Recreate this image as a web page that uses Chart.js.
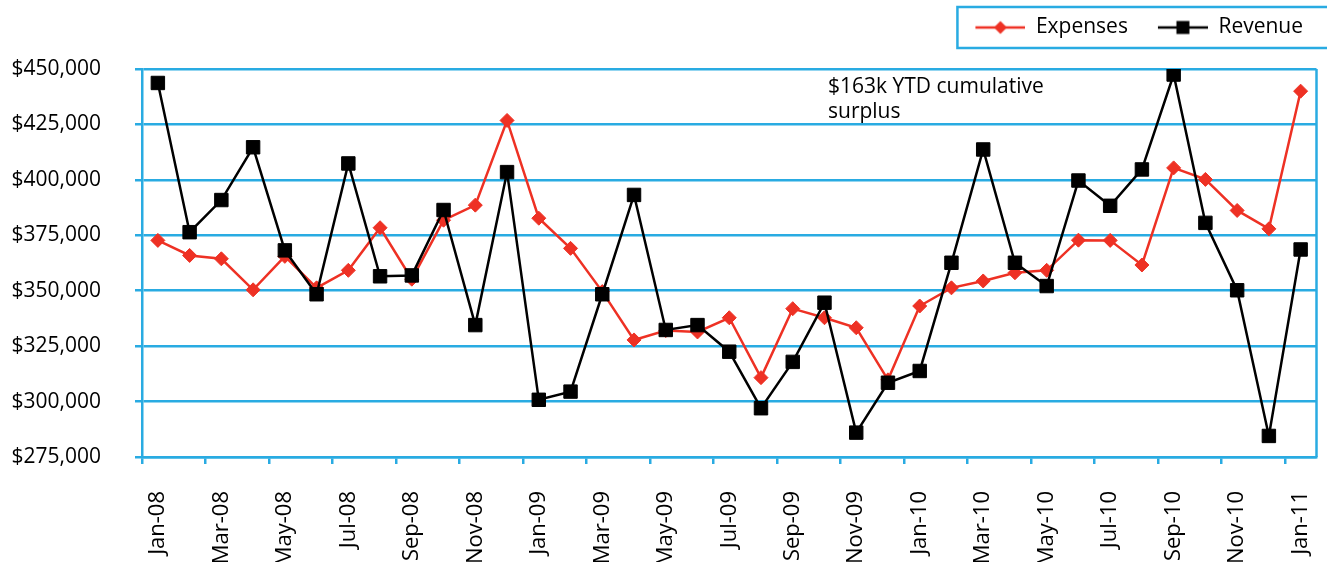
<!DOCTYPE html>
<html>
<head>
<meta charset="utf-8">
<script src="https://cdn.jsdelivr.net/npm/chart.js@4"></script>
<style>
  html, body { margin: 0; padding: 0; background: #fff; }
  #wrap { width: 1327px; height: 562px; position: relative; }
</style>
</head>
<body>
<div id="wrap"><canvas id="myLineChart"></canvas></div>
<script>
// 月份 (類別)
const months = [
  'Jan-08', 'Feb-08', 'Mar-08', 'Apr-08', 'May-08', 'Jun-08', 'Jul-08', 'Aug-08', 'Sep-08', 'Oct-08', 'Nov-08', 'Dec-08',
  'Jan-09', 'Feb-09', 'Mar-09', 'Apr-09', 'May-09', 'Jun-09', 'Jul-09', 'Aug-09', 'Sep-09', 'Oct-09', 'Nov-09', 'Dec-09',
  'Jan-10', 'Feb-10', 'Mar-10', 'Apr-10', 'May-10', 'Jun-10', 'Jul-10', 'Aug-10', 'Sep-10', 'Oct-10', 'Nov-10', 'Dec-10',
  'Jan-11'
];

// 支出
const expenses = [
  372700, 365900, 364400, 350400, 365500, 351300, 359200, 378400, 355200, 381800, 388600, 426800,
  382700, 369100, 349600, 327800, 332000, 331400, 337800, 310800, 341900, 337800, 333300, 309800,
  343100, 351300, 354400, 358100, 359200, 372800, 372700, 361600, 405400, 400200, 386200, 377900,
  440000
];

// 收入
const revenue = [
  443700, 376400, 390900, 414700, 368200, 348400, 407400, 356500, 356900, 386400, 334500, 403500,
  300800, 304500, 348400, 393200, 332300, 334500, 322500, 297000, 317900, 344600, 286000, 308500,
  313800, 362600, 413700, 362600, 352100, 399700, 388300, 404700, 447500, 380600, 350200, 284500,
  368600
];

// Y 軸刻度
const yMin = 275000;
const yMax = 450000;
const yStep = 25000;

const annotationLines = ['$163k YTD cumulative', 'surplus'];

const blue = '#29abe2';
const red = '#ee3124';
const black = '#000000';
const fontFamily = '"Open Sans", "DejaVu Sans", sans-serif';

// 圖例圖示：線段 + 標記 (左側留白 20px)
function legendIcon(color, shape) {
    const c = document.createElement('canvas');
    c.width = 70;
    c.height = 20;
    const g = c.getContext('2d');
    g.strokeStyle = color;
    g.fillStyle = color;
    g.lineWidth = 2.5;
    g.beginPath();
    g.moveTo(20, 10);
    g.lineTo(70, 10);
    g.stroke();
    if (shape === 'rect') {
        g.fillRect(38.5, 3.5, 13, 13);
    } else {
        g.beginPath();
        g.moveTo(45, 3.5);
        g.lineTo(51.5, 10);
        g.lineTo(45, 16.5);
        g.lineTo(38.5, 10);
        g.closePath();
        g.fill();
    }
    return c;
}
const legendIcons = [legendIcon(red, 'diamond'), legendIcon(black, 'rect')];

// 圖例外框、右邊框、註解文字
const extras = {
    id: 'extras',
    afterLayout(chart) {
        // 圖例往左移一點
        const lg = chart.legend;
        lg.right -= 13;
        lg.width -= 13;
    },
    beforeDatasetsDraw(chart) {
        const { ctx, chartArea } = chart;
        ctx.save();
        ctx.strokeStyle = blue;
        ctx.lineWidth = 2.5;
        ctx.beginPath();
        ctx.moveTo(chartArea.right, chartArea.top);
        ctx.lineTo(chartArea.right, chartArea.bottom);
        ctx.stroke();
        ctx.restore();
    },
    afterDraw(chart) {
        const { ctx, chartArea } = chart;
        const boxes = chart.legend.legendHitBoxes;
        if (boxes && boxes.length) {
            const left = Math.min(...boxes.map(b => b.left)) + 2;
            const top = Math.min(...boxes.map(b => b.top)) - 10;
            const bottom = Math.max(...boxes.map(b => b.top + b.height)) + 10;
            ctx.save();
            ctx.strokeStyle = blue;
            ctx.lineWidth = 2.5;
            ctx.strokeRect(left, top, chart.width + 10 - left, bottom - top);
            ctx.restore();
        }
        ctx.save();
        ctx.fillStyle = '#000';
        ctx.font = '21px ' + fontFamily;
        ctx.textBaseline = 'top';
        annotationLines.forEach((t, i) => {
            ctx.fillText(t, chartArea.left + 686, chartArea.top + 8 + i * 25);
        });
        ctx.restore();
    }
};

const ctx = document.getElementById('myLineChart').getContext('2d');

const myLineChart = new Chart(ctx, {
    type: 'line',
    data: {
        labels: months,
        datasets: [{
            label: 'Expenses',
            data: expenses,
            borderColor: red,
            backgroundColor: red,
            borderWidth: 2.5,
            pointStyle: 'rectRot',
            pointRadius: 7,
            pointHoverRadius: 7,
            pointBorderWidth: 1,
            tension: 0,
            order: 2
        }, {
            label: 'Revenue',
            data: revenue,
            borderColor: black,
            backgroundColor: black,
            borderWidth: 2.5,
            pointStyle: 'rect',
            pointRadius: 9.5,
            pointHoverRadius: 9.5,
            pointBorderWidth: 1,
            tension: 0,
            order: 1
        }]
    },
    options: {
        responsive: true,
        maintainAspectRatio: false,
        animation: false,
        layout: { padding: { top: 7, right: 1, left: 0, bottom: 0 } },
        plugins: {
            tooltip: { enabled: false },
            // 空白副標題，用來拉開圖例與繪圖區的距離
            subtitle: {
                display: true,
                text: '',
                position: 'top',
                weight: 100,
                padding: 0,
                font: { size: 21, lineHeight: 1 }
            },
            legend: {
                position: 'top',
                align: 'end',
                labels: {
                    usePointStyle: true,
                    pointStyleWidth: 70,
                    boxHeight: 21,
                    padding: 10,
                    color: '#000',
                    font: { family: fontFamily, size: 21 },
                    sort: (a, b) => a.datasetIndex - b.datasetIndex,
                    generateLabels(chart) {
                        const items = Chart.defaults.plugins.legend.labels.generateLabels(chart);
                        items.forEach(it => { it.pointStyle = legendIcons[it.datasetIndex]; });
                        return items;
                    }
                }
            }
        },
        scales: {
            x: {
                offset: true,
                grid: {
                    offset: true,
                    drawOnChartArea: false,
                    drawTicks: true,
                    tickLength: 7,
                    lineWidth: 2.5,
                    color: (c) => (c.index % 2 === 0 ? blue : 'rgba(0,0,0,0)')
                },
                border: { color: blue, width: 2.5 },
                ticks: {
                    autoSkip: false,
                    minRotation: 90,
                    maxRotation: 90,
                    padding: 27,
                    color: '#000',
                    font: { family: fontFamily, size: 22 },
                    callback(value, index) {
                        return index % 2 === 0 ? this.getLabelForValue(value) : '';
                    }
                },
                afterFit(scale) {
                    scale.height = 105;
                    scale.paddingLeft = 0;
                    scale.paddingRight = 0;
                }
            },
            y: {
                min: yMin,
                max: yMax,
                grid: { color: blue, lineWidth: 2.5, tickLength: 7 },
                border: { color: blue, width: 2.5 },
                ticks: {
                    stepSize: yStep,
                    padding: 34,
                    color: '#000',
                    font: { family: fontFamily, size: 21 },
                    callback: (v) => '$' + v.toLocaleString('en-US')
                },
                afterFit(scale) { scale.width = 142; }
            }
        }
    },
    plugins: [extras]
});
</script>
</body>
</html>
